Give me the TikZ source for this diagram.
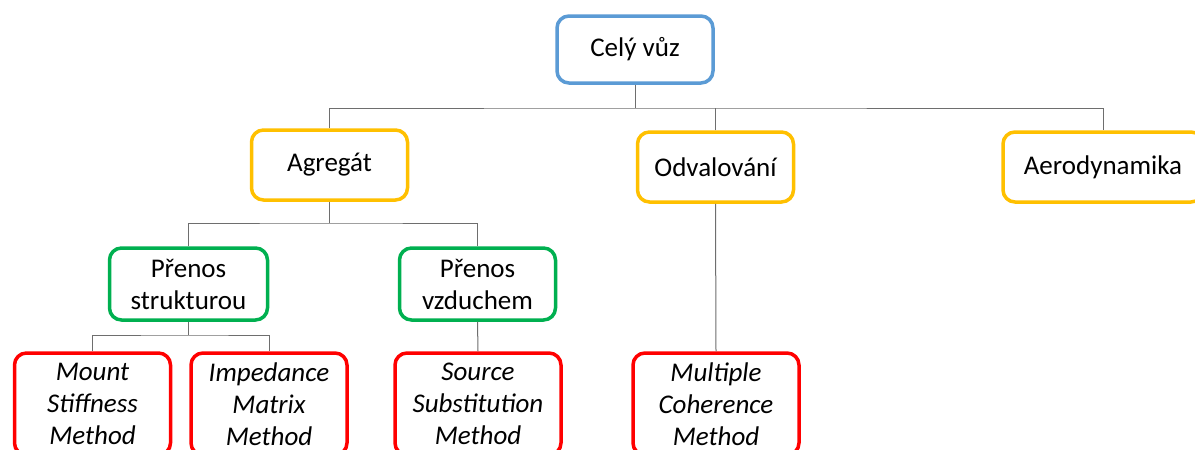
\documentclass[tikz,border=0pt]{standalone}
\usepackage{fontspec}
\setmainfont{Carlito}
\definecolor{cblue}{RGB}{91,155,213}
\definecolor{cyellow}{RGB}{255,192,0}
\definecolor{cgreen}{RGB}{0,176,80}
\definecolor{cred}{RGB}{255,0,0}
\definecolor{cline}{RGB}{110,110,110}
\tikzset{
  box/.style={draw, line width=3.5pt, rounded corners=12pt, fill=white, inner sep=0pt,
    align=center, font=\fontsize{27}{32}\selectfont, minimum width=156pt, minimum height=70pt},
  lvlzero/.style={box, draw=cblue, minimum height=67pt},
  lvlone/.style={box, draw=cyellow},
  lvltwo/.style={box, draw=cgreen, minimum height=72pt},
  lvlthree/.style={box, draw=cred, minimum height=102pt, font=\fontsize{27}{32}\selectfont\itshape},
  conn/.style={draw=cline, line width=1pt}
}
\begin{document}
\begin{tikzpicture}[x=1pt,y=-1pt]
\useasboundingbox (0,0) rectangle (1195,450);
\clip (0,0) rectangle (1195,450);
\fill[white] (0,0) rectangle (1195,450);
\node[lvlzero] (cely) at (635,49.5) {Celý vůz};
\node[lvlone] (agregat) at (329.5,165) {Agregát};
\node[lvlone] (odval) at (715.5,167) {Odvalování};
\node[lvlone, minimum width=200pt] (aero) at (1103,167) {Aerodynamika};
\node[lvltwo, minimum width=158pt] (strukt) at (188.5,284) {Přenos\\strukturou};
\node[lvltwo] (vzduch) at (477.5,284) {Přenos\\vzduchem};
\node[lvlthree] (mount) at (92.5,404) {Mount\\Stiffness\\Method};
\node[lvlthree] (imped) at (269,404) {Impedance\\Matrix\\Method};
\node[lvlthree, minimum width=166pt] (source) at (478,404) {Source\\Substitution\\Method};
\node[lvlthree, minimum width=166pt] (multi) at (716,404) {Multiple\\Coherence\\Method};
\coordinate (b1) at (635,108);
\coordinate (b2) at (329.5,223);
\coordinate (b3) at (188.5,335);
\draw[conn] (cely.south) -- (b1);
\draw[conn] (agregat.north) |- (b1) -| (aero.north);
\draw[conn] (odval.north) -- (odval.north |- b1);
\draw[conn] (agregat.south) -- (b2);
\draw[conn] (strukt.north) |- (b2) -| (vzduch.north);
\draw[conn] (strukt.south) -- (b3);
\draw[conn] (mount.north) |- (b3) -| (imped.north);
\draw[conn] (vzduch.south) -- (source.north);
\draw[conn] (odval.south) -- (multi.north);
\end{tikzpicture}
\end{document}
